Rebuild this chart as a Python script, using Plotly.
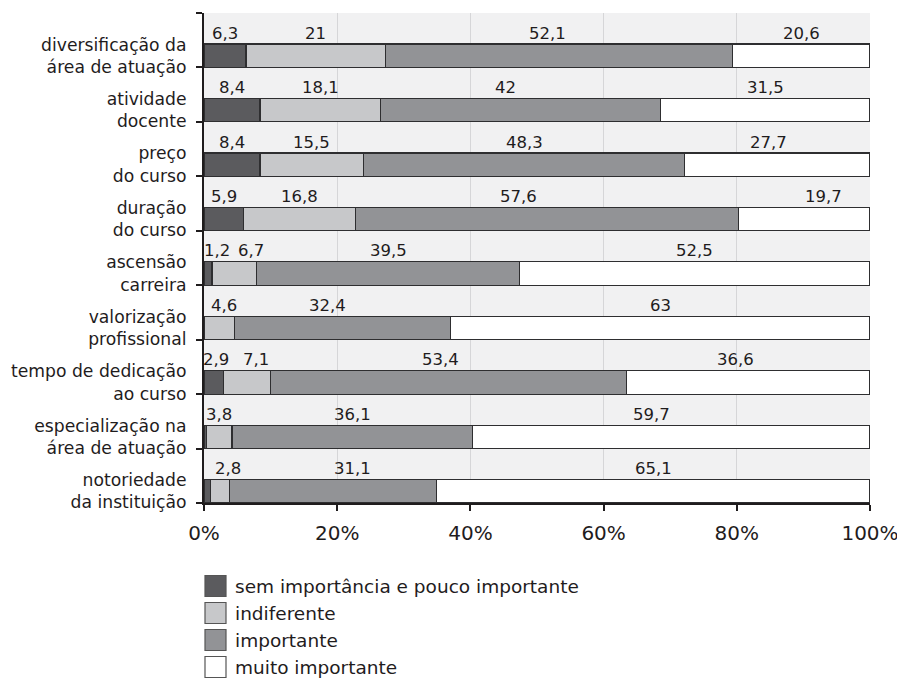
import plotly.graph_objects as go

# ---------------- data ----------------
categories = [
    "diversificação da<br>área de atuação",
    "atividade<br>docente",
    "preço<br>do curso",
    "duração<br>do curso",
    "ascensão<br>carreira",
    "valorização<br>profissional",
    "tempo de dedicação<br>ao curso",
    "especialização na<br>área de atuação",
    "notoriedade<br>da instituição",
]
series_names = [
    "sem importância e pouco importante",
    "indiferente",
    "importante",
    "muito importante",
]
sem_importancia = [6.3, 8.4, 8.4, 5.9, 1.2, 0.0, 2.9, 0.4, 1.0]
indiferente = [21, 18.1, 15.5, 16.8, 6.7, 4.6, 7.1, 3.8, 2.8]
importante = [52.1, 42, 48.3, 57.6, 39.5, 32.4, 53.4, 36.1, 31.1]
muito_importante = [20.6, 31.5, 27.7, 19.7, 52.5, 63, 36.6, 59.7, 65.1]
x_ticks = [0, 20, 40, 60, 80, 100]
x_tick_labels = ["0%", "20%", "40%", "60%", "80%", "100%"]

series_values = [sem_importancia, indiferente, importante, muito_importante]

# ---------------- style ----------------
colors = ["#5b5b5e", "#c7c8ca", "#929396", "#ffffff"]
outline = "#2e2e30"
bg = "#f1f1f2"
font_family = "'DejaVu Sans', 'Open Sans', sans-serif"
text_color = "#1f1c1d"
BAR_POS = 0.785      # bar center within band
BAR_W = 0.43
LABEL_POS = 0.37     # label center within band
hidden_labels = {(7, 0), (8, 0), (5, 0)}   # values not printed in the original
label_shift = {       # (row, series): pixel shift of value label
    (0, 2): -12, (1, 2): -15, (2, 3): -9, (3, 2): -28, (3, 3): 19,
    (4, 0): 9, (4, 1): 17, (5, 1): 5, (5, 2): -15, (6, 0): 2, (6, 1): 9,
    (6, 2): -8, (6, 3): -13, (7, 3): -20, (8, 1): 8, (8, 2): 20,
}

# page offset (browser body margin) compensation
OFF = 8
n = len(categories)
band_y = [i + BAR_POS for i in range(n)]

fig = go.Figure()
for s, (name, vals) in enumerate(zip(series_names, series_values)):
    fig.add_trace(go.Bar(
        y=band_y, x=vals, name=name, orientation="h", width=BAR_W,
        marker=dict(color=colors[s], line=dict(color=outline, width=1.2)),
        showlegend=False, hoverinfo="x+name",
    ))

# value labels above bars
annotations = []
for i in range(n):
    cum = 0.0
    for s, vals in enumerate(series_values):
        v = vals[i]
        if (i, s) not in hidden_labels:
            annotations.append(dict(
                x=cum + v / 2, y=i + LABEL_POS, xref="x", yref="y",
                text=f"{v:g}".replace(".", ","), showarrow=False,
                xshift=label_shift.get((i, s), 0),
                font=dict(size=16.5, color=text_color, family=font_family),
            ))
        cum += v

# page-pixel layout of plot area
FIG_W, FIG_H = 905, 679
PX_L, PX_R, PX_T, PX_B = 204, 870, 13, 503
L = PX_L - OFF
T = PX_T - OFF
R = FIG_W - (PX_R - OFF)
B = FIG_H - (PX_B - OFF)
W, H = PX_R - PX_L, PX_B - PX_T

# manual legend
shapes = []
legend_rows_px = [586, 613, 640, 667]
for s, name in enumerate(series_names):
    yc = (PX_B - legend_rows_px[s]) / H
    shapes.append(dict(
        type="rect", xref="paper", yref="paper",
        xsizemode="pixel", ysizemode="pixel",
        xanchor=(205 - PX_L) / W, yanchor=yc,
        x0=0, x1=21, y0=-10.5, y1=10.5,
        fillcolor=colors[s], line=dict(color="#555", width=1.2),
    ))
    annotations.append(dict(
        x=(233 - PX_L) / W, y=yc, xref="paper", yref="paper",
        xanchor="left", yanchor="middle", showarrow=False, text=name,
        font=dict(size=18.5, color=text_color, family=font_family),
    ))

fig.update_layout(
    barmode="stack",
    width=FIG_W, height=FIG_H,
    margin=dict(l=L, r=R, t=T, b=B, autoexpand=False),
    paper_bgcolor="white", plot_bgcolor=bg,
    font=dict(family=font_family, color=text_color),
    annotations=annotations, shapes=shapes,
    showlegend=False,
    xaxis=dict(
        range=[0, 100], tickvals=x_ticks, ticktext=x_tick_labels,
        showgrid=True, gridcolor="#d6d6d8", gridwidth=1,
        showline=True, linecolor=text_color, linewidth=2,
        ticks="outside", ticklen=6, tickwidth=2, tickcolor=text_color,
        tickfont=dict(size=20, color=text_color, family=font_family),
        ticklabelstandoff=5, zeroline=False, fixedrange=True,
        automargin=False,
    ),
    yaxis=dict(
        range=[n, 0], tickvals=band_y, ticktext=categories,
        ticks="", showgrid=False, zeroline=False,
        showline=True, linecolor=text_color, linewidth=2,
        tickfont=dict(size=17.2, color=text_color, family=font_family),
        ticklabelstandoff=12,
        minor=dict(tickmode="array", tickvals=list(range(n + 1)),
                   ticks="outside", ticklen=6, tickwidth=2,
                   tickcolor=text_color, showgrid=False),
        fixedrange=True, automargin=False,
    ),
)

fig.write_html("out.html")
